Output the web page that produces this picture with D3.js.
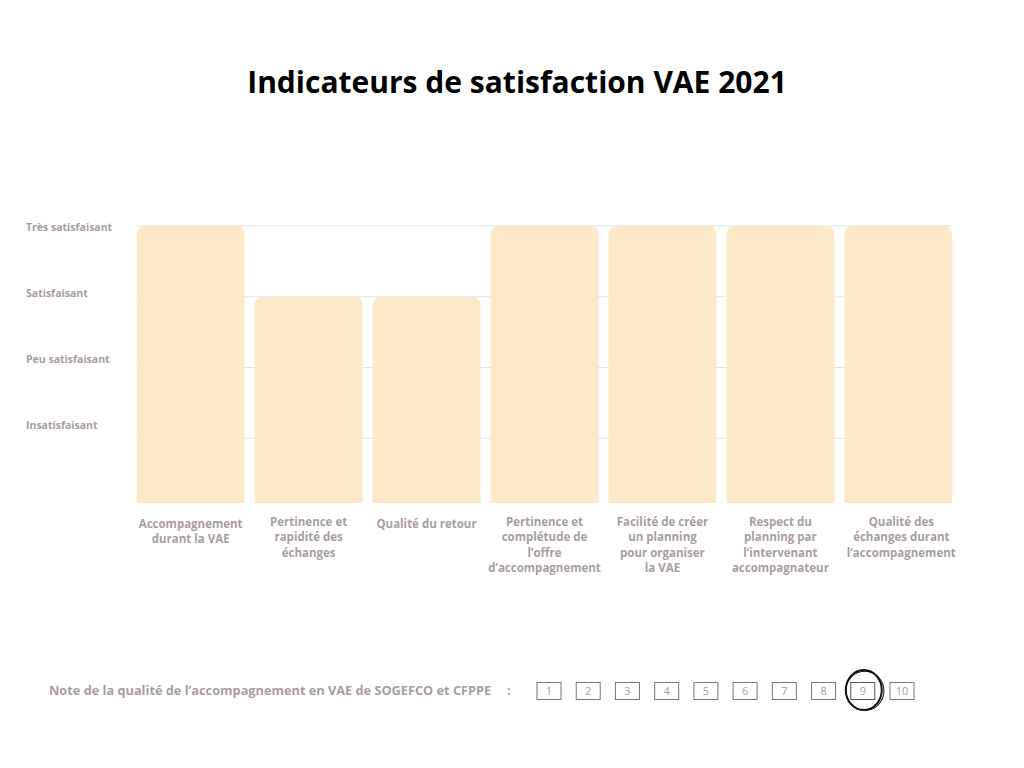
<!DOCTYPE html>
<html>
<head>
<meta charset="utf-8">
<script src="https://cdn.jsdelivr.net/npm/d3@7"></script>
<style>
  body { margin: 0; background: #fff; }
  text { font-family: "Open Sans", sans-serif; }
</style>
</head>
<body>
<div id="chart"></div>
<script>
// data
var categories = [
    ["Accompagnement", "durant la VAE"],
    ["Pertinence et", "rapidité des", "échanges"],
    ["Qualité du retour"],
    ["Pertinence et", "complétude de", "l’offre", "d’accompagnement"],
    ["Facilité de créer", "un planning", "pour organiser", "la VAE"],
    ["Respect du", "planning par", "l’intervenant", "accompagnateur"],
    ["Qualité des", "échanges durant", "l’accompagnement"]
]
var values = [4, 3, 3, 4, 4, 4, 4]
var levelLabels = ["Très satisfaisant", "Satisfaisant", "Peu satisfaisant", "Insatisfaisant"]
var levelValues = [4, 3, 2, 1]
var notes = [1, 2, 3, 4, 5, 6, 7, 8, 9, 10]
var chosenNote = 9

var W = 1024, H = 768
var labelColor = "#a99d9d"

var svg = d3.select("#chart")
    .append("svg")
    .attr("width", W)
    .attr("height", H)

// title
svg.append("text")
    .attr("x", 517)
    .attr("y", 93)
    .attr("text-anchor", "middle")
    .style("font-size", "30px")
    .style("font-weight", 700)
    .attr("fill", "#000")
    .text("Indicateurs de satisfaction VAE 2021")

// scales
var x = d3.scaleBand()
    .domain(d3.range(values.length))
    .range([132, 957])
    .paddingInner(0.085)
    .paddingOuter(0.04)

var y = d3.scaleLinear()
    .domain([0, 4])
    .range([509, 226])

var baseline = 503

// gridlines
svg.append("g")
    .selectAll("line")
    .data(levelValues)
    .enter()
    .append("line")
    .attr("x1", x(0))
    .attr("x2", x(values.length - 1) + x.bandwidth())
    .attr("y1", function(d) { return y(d) })
    .attr("y2", function(d) { return y(d) })
    .attr("stroke", "#e4e2e2")
    .attr("stroke-width", 1.2)

// level labels (placed on their own scale, as in the picture)
var yLab = d3.scaleLinear()
    .domain([4, 1])
    .range([231, 429])

svg.append("g")
    .selectAll("text")
    .data(levelLabels)
    .enter()
    .append("text")
    .attr("x", 26)
    .attr("y", function(d, i) { return yLab(levelValues[i]) })
    .style("font-size", "10.5px")
    .style("font-weight", 700)
    .attr("fill", labelColor)
    .text(function(d) { return d })

// bars with rounded top corners
function barPath(x0, w, top, bottom, r) {
    return "M" + x0 + "," + bottom +
        "V" + (top + r) +
        "Q" + x0 + "," + top + " " + (x0 + r) + "," + top +
        "H" + (x0 + w - r) +
        "Q" + (x0 + w) + "," + top + " " + (x0 + w) + "," + (top + r) +
        "V" + bottom + "Z"
}

svg.append("g")
    .selectAll("path")
    .data(values)
    .enter()
    .append("path")
    .attr("d", function(d, i) {
        return barPath(x(i), x.bandwidth(), y(d), baseline, 9)
    })
    .attr("fill", "#fde8c8")

// category labels
var cat = svg.append("g")
    .selectAll("text")
    .data(categories)
    .enter()
    .append("text")
    .attr("text-anchor", "middle")
    .attr("x", function(d, i) { return x(i) + x.bandwidth() / 2 + (i == 6 ? 3 : 0) })
    .attr("y", function(d) { return d.length == 1 || d.length == 2 && d[0] == "Accompagnement" ? 528 : 526 })
    .style("font-size", "11.5px")
    .style("font-weight", 700)
    .attr("fill", labelColor)

cat.selectAll("tspan")
    .data(function(d) { return d })
    .enter()
    .append("tspan")
    .attr("x", function() { return d3.select(this.parentNode).attr("x") })
    .attr("dy", function(d, i) { return i == 0 ? 0 : 15.3 })
    .text(function(d) { return d })

// note row
svg.append("text")
    .attr("x", 49)
    .attr("y", 695)
    .style("font-size", "12.75px")
    .style("font-weight", 700)
    .attr("fill", labelColor)
    .text("Note de la qualité de l’accompagnement en VAE de SOGEFCO et CFPPE")

svg.append("text")
    .attr("x", 507)
    .attr("y", 695)
    .style("font-size", "12.75px")
    .style("font-weight", 700)
    .attr("fill", labelColor)
    .text(":")

var xn = d3.scalePoint()
    .domain(notes)
    .range([549, 902])

var box = svg.append("g")
    .selectAll("g")
    .data(notes)
    .enter()
    .append("g")
    .attr("transform", function(d) { return "translate(" + xn(d) + ",691)" })

box.append("rect")
    .attr("x", -12)
    .attr("y", -8.5)
    .attr("width", 24)
    .attr("height", 17)
    .attr("fill", "#fff")
    .attr("stroke", function(d) { return d == chosenNote ? "#555" : "#777" })
    .attr("stroke-width", 1)

box.append("text")
    .attr("text-anchor", "middle")
    .attr("y", 4)
    .style("font-size", "11px")
    .attr("fill", labelColor)
    .text(function(d) { return d })

// hand-drawn circle around the chosen note
var cx = xn(chosenNote) + 1, cy = 690
var circ = svg.append("g").attr("fill", "none").attr("stroke", "#111")
circ.append("ellipse")
    .attr("cx", cx).attr("cy", cy)
    .attr("rx", 18).attr("ry", 20)
    .attr("stroke-width", 2)
circ.append("ellipse")
    .attr("cx", cx + 1).attr("cy", cy + 1)
    .attr("rx", 19).attr("ry", 19.5)
    .attr("stroke-width", 1)
    .attr("transform", "rotate(-10," + cx + "," + cy + ")")
</script>
</body>
</html>
